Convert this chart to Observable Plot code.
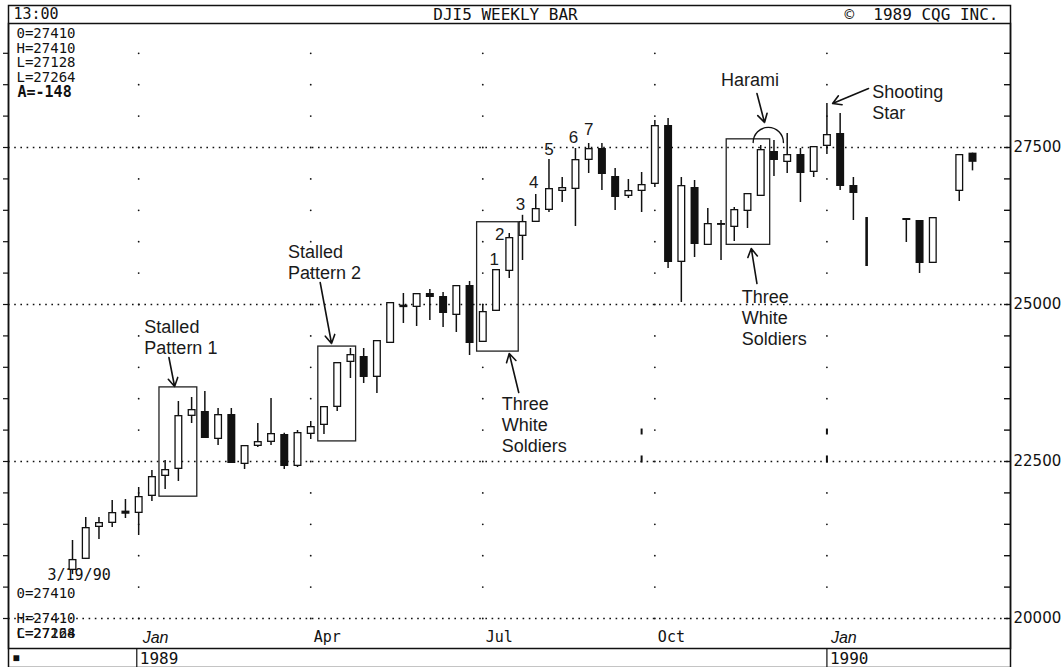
<!DOCTYPE html>
<html><head><meta charset="utf-8">
<script src="https://cdn.jsdelivr.net/npm/d3@7"></script>
<script src="https://cdn.jsdelivr.net/npm/@observablehq/plot@0.6"></script>
<style>body{margin:0;background:#fff}svg text{white-space:pre}</style>
</head><body><div id="chart"></div>
<script>
// ---- weekly bars (Monday dates) ----
const weeks = ["1988-11-28","1988-12-05","1988-12-12","1988-12-19","1988-12-26",
"1989-01-02","1989-01-09","1989-01-16","1989-01-23","1989-01-30",
"1989-02-06","1989-02-13","1989-02-20","1989-02-27","1989-03-06",
"1989-03-13","1989-03-20","1989-03-27","1989-04-03","1989-04-10",
"1989-04-17","1989-04-24","1989-05-01","1989-05-08","1989-05-15",
"1989-05-22","1989-05-29","1989-06-05","1989-06-12","1989-06-19",
"1989-06-26","1989-07-03","1989-07-10","1989-07-17","1989-07-24",
"1989-07-31","1989-08-07","1989-08-14","1989-08-21","1989-08-28",
"1989-09-04","1989-09-11","1989-09-18","1989-09-25","1989-10-02",
"1989-10-09","1989-10-16","1989-10-23","1989-10-30","1989-11-06",
"1989-11-13","1989-11-20","1989-11-27","1989-12-04","1989-12-11",
"1989-12-18","1989-12-25","1990-01-01","1990-01-08","1990-01-15",
"1990-01-22","1990-02-12","1990-02-19","1990-02-26","1990-03-12","1990-03-19"];
const open = [20764,20940,21449,21513,21710,
21672,21943,22261,22373,23217,
23296,22850,23248,22452,22739,
22803,22930,22420,22930,23073,
23360,24076,24172,23838,24379,
24990,24952,25175,25127,24825,
25303,24395,24889,25525,26083,
26306,26497,26799,26831,27293,
27484,27038,26720,26799,26911,
27850,25669,26863,25939,26290,
26226,26481,26720,27436,27261,
27389,27102,27516,27723,26895,
null,26369,26338,25653,26799,27410];
const high = [21242,21608,21608,21879,21895,
22086,22357,22516,23455,23519,
23615,23344,23344,22755,23105,
23503,22950,22994,23137,23376,
24076,24299,24299,24427,25032,
25175,25175,25239,25191,25303,
25366,25000,25557,26131,26420,
26752,27309,27022,27484,27564,
27564,27166,26990,27102,27930,
27962,27022,26975,26529,26338,
26545,26768,27532,27611,27723,
27484,27516,28201,28041,27022,
26385,26369,26338,26385,27389,27410];
const low = [20700,20940,21258,21449,21592,
21322,21863,22054,22182,23105,
22866,22755,22468,22373,22723,
22755,22373,22404,22850,22930,
23296,23822,23742,23583,24379,
24697,24650,24745,24634,24554,
24188,24395,24889,25414,25701,
26306,26465,26624,26242,27086,
26815,26497,26688,26465,26863,
25573,25032,25748,25939,25701,
26003,26210,26720,27038,27086,
26624,27022,27389,26815,26338,
25605,25987,25494,25653,26640,27128];
const close = [20940,21449,21529,21688,21660,
21943,22261,22373,23232,23328,
22866,23248,22468,22755,22818,
22946,22420,22962,23057,23376,
24076,24204,23838,24427,25032,
24950,25175,25111,24857,25303,
24379,24889,25557,26067,26322,
26529,26847,26863,27309,27484,
27070,26704,26815,26911,27850,
25669,26895,25955,26290,26260,
26513,26768,27468,27293,27389,
27086,27516,27707,26879,26768,
null,26338,25653,26385,27389,27264];

// ---- axes / grid ----
const labelValues = [20000, 22500, 25000, 27500];
const minorLevels = d3.range(20000, 29001, 500);
const quarterDates = ["1989-01-02","1989-04-03","1989-07-03","1989-10-02","1990-01-01"];
const quarterLabels = ["Jan","Apr","Jul","Oct","Jan"];
const yearDates = ["1989-01-01","1990-01-01"];
const yearLabels = ["1989","1990"];
const speckDates = ["1989-09-25","1989-09-25","1990-01-01","1990-01-01"];
const speckLow = [22930,22484,22930,22484];
const speckHigh = [23025,22596,23025,22596];

// ---- texts ----
const headerLeft = "13:00";
const headerTitle = "DJI5 WEEKLY BAR";
const headerRight = "©  1989 CQG INC.";
const statsTop = ["0=27410","H=27410","L=27128","L=27264"];
const statsChange = "A=-148";
const lastBarDate = "3/19/90";
const statsBottom = ["0=27410","H=27410"];
const statsOverprint = ["L=27128","C=27264"];

// ---- annotations ----
const boxStart = ["1989-01-13","1989-04-07","1989-06-30","1989-11-09"];
const boxEnd = ["1989-02-02","1989-04-27","1989-07-22","1989-12-02"];
const boxTop = [23680,24330,26310,27630];
const boxBottom = [21940,22820,24250,25950];
const noteText = ["Stalled\nPattern 1","Stalled\nPattern 2","Three\nWhite\nSoldiers","Three\nWhite\nSoldiers","Harami","Shooting\nStar"];
const noteDate = ["1989-01-05","1989-03-22","1989-07-13","1989-11-17","1989-11-06","1990-01-25"];
const noteValue = [24774,25971,23551,25255,28710,28519];
const arrowFromDate = ["1989-01-18","1989-04-08","1989-07-22","1989-11-25","1989-11-25","1990-01-23"];
const arrowFromValue = [24156,25350,23599,25334,28360,28439];
const arrowToDate = ["1989-01-21","1989-04-14","1989-07-17","1989-11-22","1989-11-29","1990-01-04"];
const arrowToValue = [23694,24379,24220,25892,27898,28201];
const haramiArcDates = ["1989-11-23","1989-12-09"];
const haramiArcValue = 27580;
const countText = ["1","2","3","4","5","6","7"];
const countDate = ["1989-07-09","1989-07-12","1989-07-23","1989-07-30","1989-08-07","1989-08-20","1989-08-28"];
const countValue = [25717,26115,26592,26943,27468,27659,27787];

// ---- build ----
const D = s => new Date(s);
const candles = weeks.map((w, i) => ({date: D(w), open: open[i], high: high[i], low: low[i], close: close[i]}));
const bodies = candles.filter(d => d.open != null);
const whites = bodies.filter(d => d.close > d.open);
const bare = candles.filter(d => d.open == null);
const gridDots = quarterDates.flatMap(q => minorLevels.map(v => ({date: D(q), value: v})));
const specks = speckDates.map((s, i) => ({date: D(s), lo: speckLow[i], hi: speckHigh[i]}));
const boxes = boxStart.map((s, i) => ({start: D(s), end: D(boxEnd[i]), top: boxTop[i], bottom: boxBottom[i]}));
const notes = noteText.map((t, i) => ({text: t, date: D(noteDate[i]), value: noteValue[i]}));
const arrows = arrowFromDate.map((s, i) => ({x1: D(s), y1: arrowFromValue[i], x2: D(arrowToDate[i]), y2: arrowToValue[i]}));
const counts = countText.map((t, i) => ({text: t, date: D(countDate[i]), value: countValue[i]}));
const quarters = quarterDates.map((q, i) => ({date: D(q), label: quarterLabels[i]}));

const mono = "DejaVu Sans Mono, Liberation Mono, monospace";
const sans = "Liberation Sans, Arial, Helvetica, sans-serif";
const ink = "#111";
const statStyle = {textAnchor: "start", lineAnchor: "middle", fontFamily: mono, fontSize: 14};
const statLine = (s, anchor, dx, dy, extra = {}) =>
  Plot.text([s], {...statStyle, ...extra, text: d => d, frameAnchor: anchor, dx, dy});

const chart = Plot.plot({
  width: 1062, height: 667,
  marginLeft: 8, marginRight: 52, marginTop: 23, marginBottom: 19,
  style: {background: "#fff", color: ink},
  x: {type: "utc", domain: [D(weeks[0]), D(weeks[weeks.length - 1])], range: [72, 972], axis: null},
  y: {domain: [20000, 27500], range: [618, 147], axis: null},
  marks: [
    Plot.frame({insetTop: -18, insetBottom: -19, stroke: ink, strokeWidth: 1.5}),
    Plot.frame({stroke: ink, strokeWidth: 1.5}),
    Plot.ruleY(labelValues, {y: d => d, stroke: ink, strokeWidth: 1.4, strokeDasharray: "1.6,4.6"}),
    Plot.dot(gridDots, {x: "date", y: "value", r: 0.9, fill: ink, stroke: null}),
    Plot.link(specks, {x1: "date", x2: "date", y1: "lo", y2: "hi", stroke: ink, strokeWidth: 2}),
    Plot.tickY(minorLevels, {y: d => d, insetLeft: 996, stroke: ink, strokeWidth: 1.4}),
    Plot.tickY(minorLevels, {y: d => d, insetLeft: -5, insetRight: 1002, stroke: ink, strokeWidth: 1.2}),
    Plot.axisY({anchor: "right", ticks: labelValues, tickSize: 0, tickPadding: 3, tickFormat: "d", label: null, fontSize: 15, fontFamily: "DejaVu Sans, sans-serif"}),
    // month & year labels
    Plot.text(quarters.filter(d => d.label === "Jan"), {x: "date", text: "label", frameAnchor: "bottom", dy: -11, dx: 4, textAnchor: "start", lineAnchor: "middle", fontStyle: "italic", fontFamily: sans, fontSize: 16}),
    Plot.text(quarters.filter(d => d.label !== "Jan"), {x: "date", text: "label", frameAnchor: "bottom", dy: -11, dx: 3, textAnchor: "start", lineAnchor: "middle", fontFamily: mono, fontSize: 15}),
    Plot.ruleX(yearDates, {x: d => D(d), insetTop: 625, insetBottom: -19, stroke: ink, strokeWidth: 1.2}),
    Plot.text(yearLabels, {x: (d, i) => D(yearDates[i]), text: d => d, frameAnchor: "bottom", dy: 10, dx: 3, textAnchor: "start", lineAnchor: "middle", fontFamily: mono, fontSize: 16}),
    Plot.text(["■"], {text: d => d, frameAnchor: "bottom-left", dx: 4, dy: 10, textAnchor: "start", lineAnchor: "middle", fontSize: 12}),
    // header
    Plot.text([headerLeft], {text: d => d, frameAnchor: "top-left", dx: 5, dy: -9, textAnchor: "start", lineAnchor: "middle", fontFamily: mono, fontSize: 15}),
    Plot.text([headerTitle], {text: d => d, frameAnchor: "top", dx: -4, dy: -9, lineAnchor: "middle", fontFamily: mono, fontSize: 16}),
    Plot.text([headerRight], {text: d => d, frameAnchor: "top-right", dx: -12, dy: -9, textAnchor: "end", lineAnchor: "middle", fontFamily: mono, fontSize: 16}),
    // stats blocks (top-left)
    statLine(statsTop[0], "top-left", 8, 10),
    statLine(statsTop[1], "top-left", 8, 24.7),
    statLine(statsTop[2], "top-left", 8, 39.4),
    statLine(statsTop[3], "top-left", 8, 54.1),
    statLine(statsChange, "top-left", 9, 69, {fontSize: 15, fontWeight: "bold"}),
    // stats blocks (bottom-left)
    statLine(lastBarDate, "bottom-left", 39, -73, {fontSize: 15}),
    statLine(statsBottom[0], "bottom-left", 8, -55),
    statLine(statsBottom[1], "bottom-left", 8, -30),
    Plot.text(statsOverprint, {...statStyle, text: d => d, frameAnchor: "bottom-left", dx: 8, dy: -15}),
    // candles
    Plot.ruleX(bodies, {x: "date", y1: "high", y2: "low", stroke: ink, strokeWidth: 1.5}),
    Plot.ruleX(bare, {x: "date", y1: "high", y2: "low", stroke: ink, strokeWidth: 2.6}),
    Plot.ruleX(bodies, {x: "date", y1: d => Math.max(d.open, d.close), y2: d => Math.min(d.open, d.close), stroke: ink, strokeWidth: 8}),
    Plot.ruleX(whites, {x: "date", y1: "close", y2: "open", stroke: "#fff", strokeWidth: 5.4, insetTop: 1.3, insetBottom: 1.3}),
    // annotations
    Plot.rect(boxes, {x1: "start", x2: "end", y1: "bottom", y2: "top", fill: "none", stroke: "#222", strokeWidth: 1.3}),
    Plot.arrow(arrows, {x1: "x1", y1: "y1", x2: "x2", y2: "y2", stroke: ink, strokeWidth: 1.6, headLength: 9}),
    Plot.arrow([{a: D(haramiArcDates[0]), b: D(haramiArcDates[1]), v: haramiArcValue}], {x1: "a", x2: "b", y1: "v", y2: "v", bend: 90, headLength: 0, stroke: ink, strokeWidth: 1.4}),
    Plot.text(notes, {x: "date", y: "value", text: "text", textAnchor: "start", lineAnchor: "top", lineHeight: 1.15, fontFamily: sans, fontSize: 18, fill: "#1a1a1a"}),
    Plot.text(counts, {x: "date", y: "value", text: "text", lineAnchor: "middle", fontFamily: sans, fontSize: 17, fill: "#1a1a1a"})
  ]
});
document.getElementById("chart").appendChild(chart);
</script>
</body></html>
